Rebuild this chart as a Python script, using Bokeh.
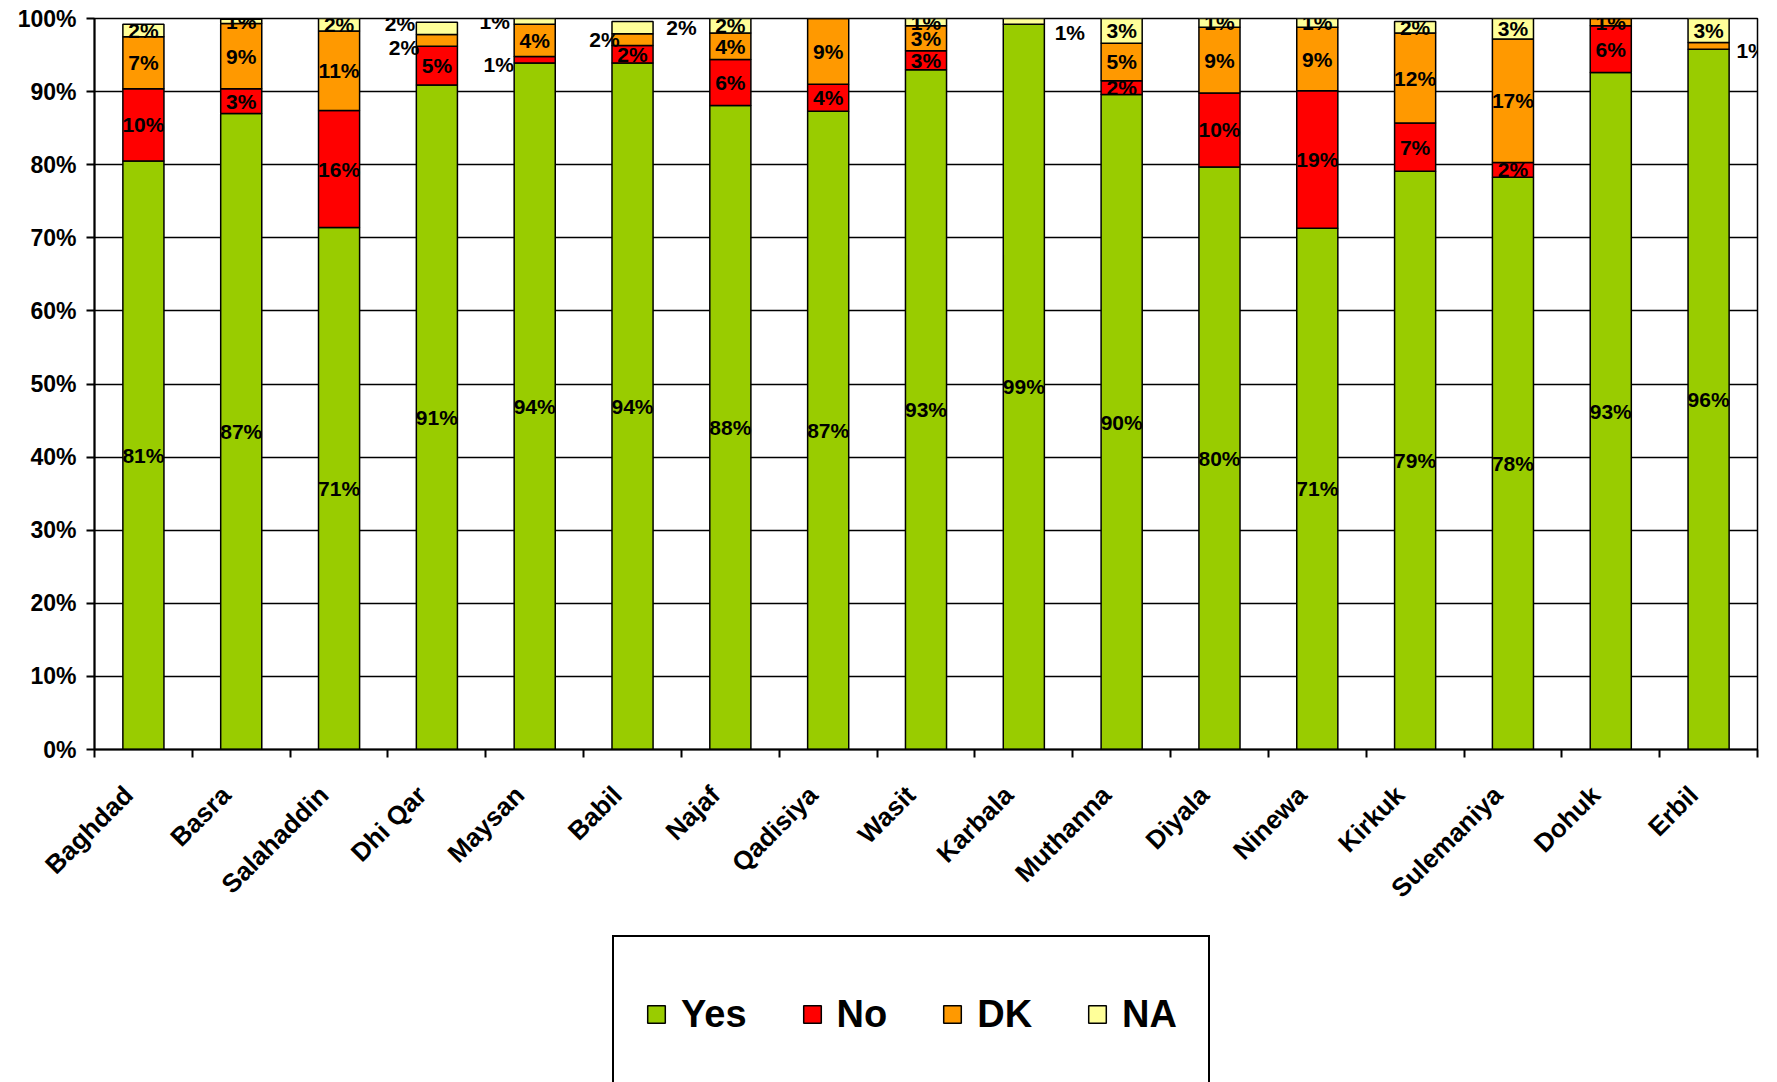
import math
from bokeh.plotting import figure
from bokeh.layouts import column
from bokeh.models import (ColumnDataSource, Range1d, LinearAxis, FixedTicker, Grid,
                          Legend, LegendItem, PrintfTickFormatter)
from bokeh.core.properties import value
from bokeh.embed import file_html
from bokeh.resources import INLINE

# ---------------- data ----------------
categories = ["Baghdad", "Basra", "Salahaddin", "Dhi Qar", "Maysan", "Babil", "Najaf",
              "Qadisiya", "Wasit", "Karbala", "Muthanna", "Diyala", "Ninewa", "Kirkuk",
              "Sulemaniya", "Dohuk", "Erbil"]
series_names = ["Yes", "No", "DK", "NA"]
yes = [80.5, 87.0, 71.4, 90.9, 93.9, 93.9, 88.1, 87.3, 93.0, 99.2, 89.6, 79.7, 71.3, 79.1, 78.3, 92.6, 95.8]
no  = [9.9, 3.4, 16.0, 5.3, 0.9, 2.4, 6.3, 3.7, 2.6, 0.0, 1.9, 10.1, 18.8, 6.6, 2.0, 6.4, 0.0]
dk  = [7.1, 8.9, 10.9, 1.6, 4.4, 1.6, 3.6, 9.0, 3.4, 0.0, 5.1, 9.0, 8.7, 12.3, 16.9, 1.0, 0.9]
na  = [1.7, 0.6, 1.7, 1.7, 0.8, 1.7, 2.0, 0.0, 1.0, 0.8, 3.4, 1.2, 1.2, 1.6, 2.8, 0.0, 3.3]
y_ticks = list(range(0, 101, 10))

# ---------------- style ----------------
colors = ["#99CC00", "#FF0000", "#FF9900", "#FFFF99"]
FONT = "Liberation Sans"
# labels drawn beside the bar (screen px: dx right, dy)
label_shift = {
    ("Dhi Qar", "NA"): (-37, -5), ("Dhi Qar", "DK"): (-33, 7),
    ("Maysan", "NA"): (-40, 0), ("Maysan", "No"): (-36, 5),
    ("Babil", "DK"): (-28, 0), ("Babil", "NA"): (49, 0),
    ("Karbala", "NA"): (46, 11),
    ("Erbil", "DK"): (43, 5),
}
label_nudge = -0.155   # shift of rotated category names relative to slot centre

n = len(categories)
centers = [i + 0.5 for i in range(n)]          # category slot centres
bounds = list(range(n + 1))                     # category slot boundaries

W = 1777
MAIN_H = 920
LEG_H = 1082 - MAIN_H

p = figure(width=W, height=MAIN_H,
           x_range=Range1d(0, n), y_range=Range1d(0, 100),
           x_axis_type=None, y_axis_type=None,
           output_backend="svg", toolbar_location=None,
           min_border_left=94, min_border_right=20, min_border_top=18,
           min_border_bottom=MAIN_H - 749)
p.outline_line_color = "black"
p.outline_line_width = 1.5
p.background_fill_color = "white"
p.border_fill_color = "white"

# y axis
yaxis = LinearAxis(ticker=FixedTicker(ticks=y_ticks), formatter=PrintfTickFormatter(format="%d%%"))
yaxis.axis_line_color = "black"
yaxis.axis_line_width = 2
yaxis.major_tick_line_color = "black"
yaxis.major_tick_line_width = 2
yaxis.major_tick_out = 8
yaxis.major_tick_in = 0
yaxis.minor_tick_line_color = None
yaxis.major_label_text_font = FONT
yaxis.major_label_text_font_style = "bold"
yaxis.major_label_text_font_size = "23px"
yaxis.major_label_text_color = "black"
yaxis.major_label_standoff = 10
p.add_layout(yaxis, "left")
p.add_layout(Grid(dimension=1, ticker=yaxis.ticker, grid_line_color="black", grid_line_width=1.5))

# x axis: tick marks between categories
tick_axis = LinearAxis(ticker=FixedTicker(ticks=bounds))
tick_axis.major_label_overrides = {b: " " for b in bounds}
tick_axis.major_label_text_font_size = "1px"
tick_axis.major_label_standoff = 0
tick_axis.axis_line_color = "black"
tick_axis.axis_line_width = 2
tick_axis.major_tick_line_color = "black"
tick_axis.major_tick_line_width = 2
tick_axis.major_tick_out = 8
tick_axis.major_tick_in = 0
tick_axis.minor_tick_line_color = None
p.add_layout(tick_axis, "below")

# x axis: category names at slot centres
label_pos = [c + label_nudge for c in centers]
cat_axis = LinearAxis(ticker=FixedTicker(ticks=label_pos))
cat_axis.major_label_overrides = {c: name for c, name in zip(label_pos, categories)}
cat_axis.axis_line_color = None
cat_axis.major_tick_line_color = None
cat_axis.minor_tick_line_color = None
cat_axis.major_label_orientation = math.pi / 4
cat_axis.major_label_text_font = FONT
cat_axis.major_label_text_font_style = "bold"
cat_axis.major_label_text_font_size = "26px"
cat_axis.major_label_text_color = "black"
cat_axis.major_label_standoff = 23
p.add_layout(cat_axis, "below")

# bars
src = ColumnDataSource(dict(x=centers, cat=categories, Yes=yes, No=no, DK=dk, NA=na))
renderers = p.vbar_stack(series_names, x="x", width=0.42, source=src,
                         fill_color=colors, line_color="black", line_width=1.5)

# data labels
lx, ly, lt, ldx, ldy = [], [], [], [], []
all_vals = [yes, no, dk, na]
for i, c in enumerate(categories):
    base = 0.0
    for s, vals in zip(series_names, all_vals):
        v = vals[i]
        if v > 0:
            dx, dy = label_shift.get((c, s), (0, 0))
            lx.append(centers[i])
            ly.append(base + v / 2)
            lt.append(f"{int(v + 0.5)}%")
            ldx.append(dx)
            ldy.append(dy)
        base += v
lsrc = ColumnDataSource(dict(x=lx, y=ly, t=lt, dx=ldx, dy=ldy))
p.text(x="x", y="y", text="t", x_offset="dx", y_offset="dy", source=lsrc,
       text_align="center", text_baseline="middle", text_font=value(FONT),
       text_font_style="bold", text_font_size="21px", text_color="black")

# ---------------- legend strip ----------------
p2 = figure(width=W, height=LEG_H, x_range=Range1d(0, 1), y_range=Range1d(0, 1),
            x_axis_type=None, y_axis_type=None,
            output_backend="svg", toolbar_location=None,
            min_border_left=94, min_border_right=20, min_border_top=0, min_border_bottom=0)
p2.outline_line_color = None
p2.background_fill_color = "white"
p2.border_fill_color = "white"
# legend-key renderers: a single zero-width row each, kept out of sight behind the legend
key_src = ColumnDataSource(dict(x=[0.5], top=[-2.0], bottom=[-2.0]))
key_renderers = [p2.vbar(x="x", top="top", bottom="bottom", source=key_src, width=0,
                         fill_color=col, line_color="black", line_width=1.5)
                 for col in colors]

legend = Legend(items=[LegendItem(label=s, renderers=[r]) for s, r in zip(series_names, key_renderers)],
                orientation="horizontal", location=(612 - 94, -11))
legend.label_text_font = FONT
legend.label_text_font_style = "bold"
legend.label_text_font_size = "38px"
legend.label_text_color = "black"
legend.glyph_width = 22
legend.glyph_height = 22
legend.label_standoff = 14
legend.spacing = 54
legend.padding = 31
legend.label_height = 92
legend.margin = 0
legend.border_line_color = "black"
legend.border_line_alpha = 1.0
legend.border_line_width = 2
legend.background_fill_color = "white"
legend.background_fill_alpha = 1.0
p2.add_layout(legend)

layout = column(p, p2, spacing=0)
open("out.html", "w").write(file_html(layout, INLINE))
